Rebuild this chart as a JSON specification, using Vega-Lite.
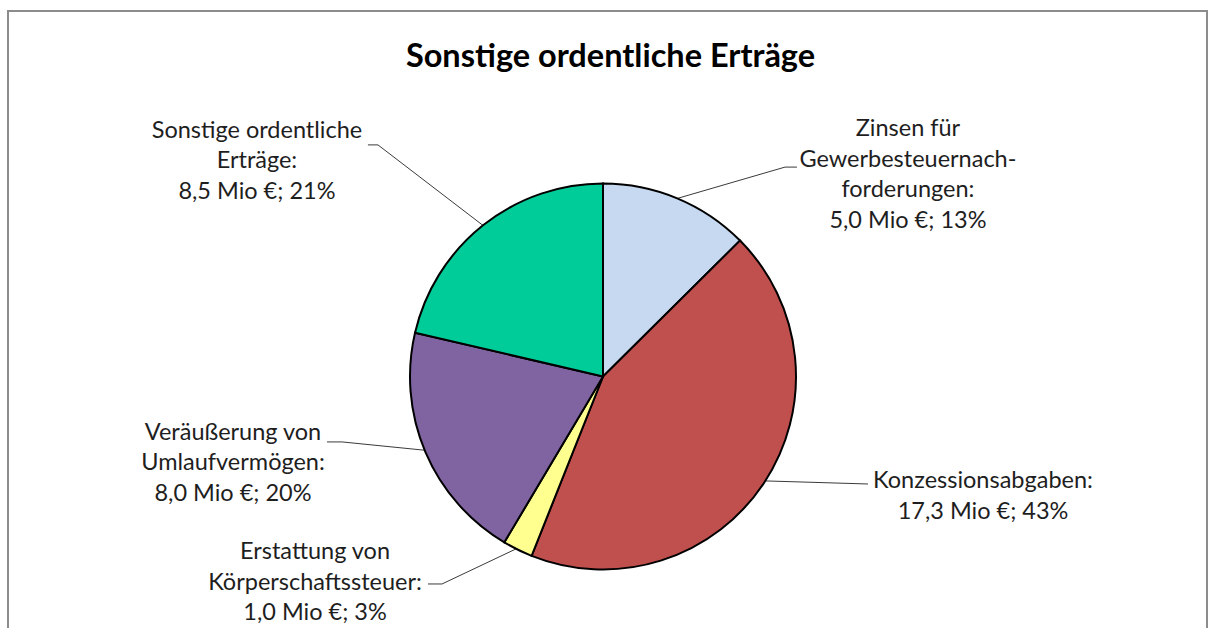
{
  "$schema": "https://vega.github.io/schema/vega-lite/v6.json",
  "width": 1199,
  "height": 619,
  "autosize": {"type": "none"},
  "padding": {"left": 8, "top": 11, "right": 5, "bottom": -2},
  "background": "white",
  "config": {
    "view": {"stroke": "#8c8c8c", "strokeWidth": 2},
    "font": "Lato"
  },
  "title": {
    "text": "Sonstige ordentliche Erträge",
    "font": "Lato",
    "fontSize": 32.5,
    "fontWeight": "bold",
    "color": "#000000",
    "anchor": "middle",
    "orient": "top",
    "frame": "group",
    "offset": -62,
    "dx": 3
  },
  "datasets": {
    "slices": [
      {"idx": 1, "name": "Zinsen für Gewerbesteuernachforderungen", "value": 5.0},
      {"idx": 2, "name": "Konzessionsabgaben", "value": 17.3},
      {"idx": 3, "name": "Erstattung von Körperschaftssteuer", "value": 1.0},
      {"idx": 4, "name": "Veräußerung von Umlaufvermögen", "value": 8.0},
      {"idx": 5, "name": "Sonstige ordentliche Erträge", "value": 8.5}
    ],
    "labels": [
      {"name": "Zinsen für Gewerbesteuernachforderungen", "text": "Zinsen für\nGewerbesteuernach-\nforderungen:\n5,0 Mio €; 13%", "lx": 158.0, "ly": 124.6},
      {"name": "Konzessionsabgaben", "text": "Konzessionsabgaben:\n17,3 Mio €; 43%", "lx": 196.9, "ly": -57.8},
      {"name": "Erstattung von Körperschaftssteuer", "text": "Erstattung von\nKörperschaftssteuer:\n1,0 Mio €; 3%", "lx": -149.2, "ly": -94.6},
      {"name": "Veräußerung von Umlaufvermögen", "text": "Veräußerung von\nUmlaufvermögen:\n8,0 Mio €; 20%", "lx": -191.7, "ly": -32.9},
      {"name": "Sonstige ordentliche Erträge", "text": "Sonstige ordentliche\nErträge:\n8,5 Mio €; 21%", "lx": -179.3, "ly": 123.6}
    ],
    "leaders": [
      {"name": "Zinsen", "k": 0, "lx": 38.6, "ly": 92.3},
      {"name": "Zinsen", "k": 1, "lx": 94.3, "ly": 108.5},
      {"name": "Zinsen", "k": 2, "lx": 100.5, "ly": 108.5},
      {"name": "Konzession", "k": 0, "lx": 84.1, "ly": -54.1},
      {"name": "Konzession", "k": 1, "lx": 137.3, "ly": -55.7},
      {"name": "Erstattung", "k": 0, "lx": -45.0, "ly": -89.3},
      {"name": "Erstattung", "k": 1, "lx": -83.4, "ly": -107.5},
      {"name": "Erstattung", "k": 2, "lx": -90.7, "ly": -107.5},
      {"name": "Veraeusserung", "k": 0, "lx": -92.4, "ly": -38.2},
      {"name": "Veraeusserung", "k": 1, "lx": -135.2, "ly": -33.9},
      {"name": "Veraeusserung", "k": 2, "lx": -143.0, "ly": -33.9},
      {"name": "Sonstige", "k": 0, "lx": -62.2, "ly": 78.3},
      {"name": "Sonstige", "k": 1, "lx": -116.6, "ly": 120.0},
      {"name": "Sonstige", "k": 2, "lx": -121.8, "ly": 120.0}
    ]
  },
  "layer": [
    {
      "data": {"name": "leaders"},
      "mark": {"type": "line", "stroke": "#3a3a3a", "strokeWidth": 1},
      "encoding": {
        "x": {"field": "lx", "type": "quantitative", "scale": {"domain": [-308.29, 312.95], "nice": false, "zero": false}, "axis": null},
        "y": {"field": "ly", "type": "quantitative", "scale": {"domain": [-131.35, 189.38], "nice": false, "zero": false}, "axis": null},
        "detail": {"field": "name", "type": "nominal"},
        "order": {"field": "k", "type": "quantitative"}
      }
    },
    {
      "data": {"name": "slices"},
      "mark": {"type": "arc", "outerRadius": 193, "stroke": "#000000", "strokeWidth": 2},
      "encoding": {
        "x": {"datum": 0, "type": "quantitative", "scale": {"domain": [-308.29, 312.95], "nice": false, "zero": false}, "axis": null},
        "y": {"datum": 0, "type": "quantitative", "scale": {"domain": [-131.35, 189.38], "nice": false, "zero": false}, "axis": null},
        "theta": {"field": "value", "type": "quantitative", "stack": true},
        "order": {"field": "idx", "type": "quantitative"},
        "color": {
          "field": "name",
          "type": "nominal",
          "scale": {
            "domain": ["Zinsen für Gewerbesteuernachforderungen", "Konzessionsabgaben", "Erstattung von Körperschaftssteuer", "Veräußerung von Umlaufvermögen", "Sonstige ordentliche Erträge"],
            "range": ["#C6D9F1", "#C0504D", "#FFFF8F", "#8064A2", "#00CC99"]
          },
          "legend": null
        }
      }
    },
    {
      "data": {"name": "labels"},
      "mark": {"type": "text", "align": "center", "baseline": "alphabetic", "lineBreak": "\n", "lineHeight": 30.5, "fontSize": 23.5, "font": "Lato", "color": "#1e1e1e"},
      "encoding": {
        "x": {"field": "lx", "type": "quantitative", "scale": {"domain": [-308.29, 312.95], "nice": false, "zero": false}, "axis": null},
        "y": {"field": "ly", "type": "quantitative", "scale": {"domain": [-131.35, 189.38], "nice": false, "zero": false}, "axis": null},
        "text": {"field": "text", "type": "nominal"}
      }
    }
  ]
}
